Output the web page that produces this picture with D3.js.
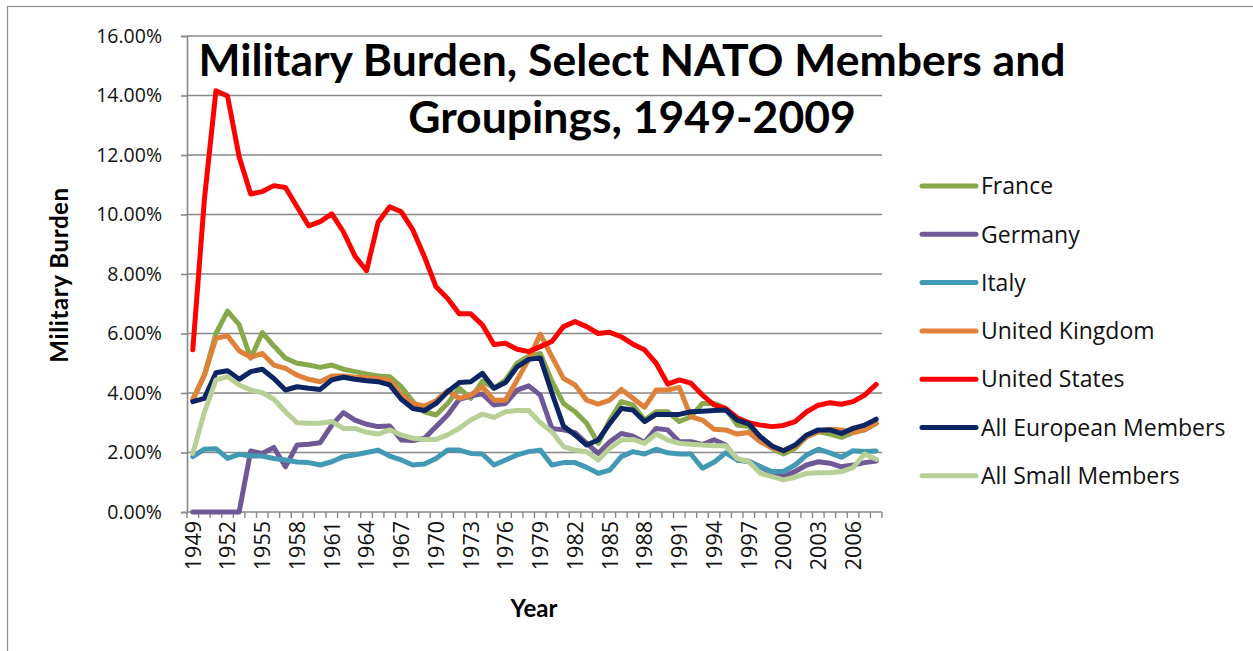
<!DOCTYPE html>
<html>
<head>
<meta charset="utf-8">
<script src="https://cdn.jsdelivr.net/npm/d3@7"></script>
<style>
  body { margin: 0; background: #fff; }
  svg { display: block; }
</style>
</head>
<body>
<div id="chart"></div>
<script>
// categories (one per year)
const years = d3.range(1949, 2009);
const yTicks = [0, 2, 4, 6, 8, 10, 12, 14, 16];

// military burden, % of GDP
const france = [3.76, 4.6, 6.0, 6.75, 6.3, 5.17, 6.03, 5.58, 5.17, 5.0,
  4.94, 4.86, 4.94, 4.8, 4.72, 4.64, 4.57, 4.55, 4.21, 3.71,
  3.37, 3.26, 3.65, 4.16, 3.82, 4.4, 4.16, 4.44, 5.0, 5.24,
  5.33, 4.4, 3.65, 3.37, 2.98, 2.31, 3.09, 3.71, 3.6, 3.09,
  3.37, 3.37, 3.04, 3.2, 3.65, 3.65, 3.48, 2.92, 2.87, 2.42,
  2.14, 1.95, 2.14, 2.53, 2.7, 2.62, 2.51, 2.67, 2.76, 2.98];
const germany = [0, 0, 0, 0, 0, 2.05, 1.97, 2.17, 1.52, 2.25,
  2.28, 2.33, 2.92, 3.34, 3.09, 2.95, 2.87, 2.89, 2.42, 2.40,
  2.48, 2.87, 3.26, 3.79, 3.9, 3.97, 3.6, 3.65, 4.1, 4.24,
  3.93, 2.81, 2.76, 2.67, 2.31, 1.97, 2.36, 2.64, 2.55, 2.34,
  2.81, 2.76, 2.36, 2.36, 2.27, 2.43, 2.25, 1.75, 1.71, 1.52,
  1.30, 1.19, 1.36, 1.58, 1.69, 1.64, 1.52, 1.58, 1.66, 1.71];
const italy = [1.86, 2.11, 2.13, 1.80, 1.94, 1.88, 1.88, 1.80, 1.75, 1.68,
  1.66, 1.58, 1.69, 1.86, 1.92, 2.0, 2.08, 1.88, 1.75, 1.58,
  1.61, 1.80, 2.08, 2.08, 1.97, 1.95, 1.58, 1.75, 1.92, 2.03,
  2.08, 1.58, 1.66, 1.66, 1.50, 1.30, 1.41, 1.86, 2.03, 1.95,
  2.11, 1.99, 1.95, 1.95, 1.47, 1.67, 1.99, 1.75, 1.69, 1.52,
  1.36, 1.36, 1.58, 1.92, 2.11, 1.99, 1.84, 2.06, 2.03, 2.05];
const unitedKingdom = [3.79, 4.6, 5.84, 5.92, 5.42, 5.20, 5.33, 4.94, 4.83, 4.6,
  4.46, 4.38, 4.57, 4.57, 4.53, 4.51, 4.49, 4.44, 3.93, 3.65,
  3.56, 3.74, 4.08, 3.82, 3.93, 4.21, 3.76, 3.76, 4.44, 5.13,
  5.98, 5.22, 4.49, 4.27, 3.76, 3.63, 3.76, 4.12, 3.82, 3.52,
  4.10, 4.10, 4.19, 3.20, 3.09, 2.78, 2.76, 2.62, 2.67, 2.36,
  2.16, 2.06, 2.20, 2.53, 2.70, 2.78, 2.76, 2.67, 2.76, 2.98];
const unitedStates = [5.45, 10.5, 14.16, 13.98, 11.94, 10.69, 10.77, 10.97, 10.91, 10.26,
  9.62, 9.76, 10.02, 9.42, 8.6, 8.11, 9.74, 10.26, 10.09, 9.48,
  8.58, 7.57, 7.18, 6.66, 6.66, 6.29, 5.63, 5.67, 5.47, 5.39,
  5.56, 5.73, 6.23, 6.40, 6.23, 6.0, 6.04, 5.89, 5.64, 5.45,
  5.0, 4.30, 4.44, 4.33, 3.93, 3.6, 3.48, 3.17, 3.0, 2.92,
  2.87, 2.91, 3.04, 3.37, 3.59, 3.67, 3.62, 3.71, 3.93, 4.29];
const europeanMembers = [3.71, 3.82, 4.68, 4.75, 4.46, 4.72, 4.80, 4.49, 4.10, 4.21,
  4.16, 4.12, 4.44, 4.53, 4.46, 4.41, 4.38, 4.27, 3.79, 3.48,
  3.41, 3.65, 4.04, 4.35, 4.38, 4.66, 4.16, 4.35, 4.88, 5.13,
  5.18, 4.0, 2.89, 2.59, 2.25, 2.42, 2.98, 3.48, 3.43, 3.04,
  3.28, 3.28, 3.28, 3.37, 3.39, 3.41, 3.43, 3.09, 2.96, 2.53,
  2.22, 2.06, 2.25, 2.59, 2.76, 2.76, 2.64, 2.81, 2.92, 3.12];
const smallMembers = [1.97, 3.35, 4.44, 4.55, 4.27, 4.10, 4.01, 3.79, 3.37, 3.0,
  2.98, 2.98, 3.04, 2.81, 2.81, 2.68, 2.62, 2.76, 2.59, 2.48,
  2.44, 2.44, 2.59, 2.81, 3.09, 3.29, 3.18, 3.37, 3.41, 3.41,
  3.0, 2.70, 2.20, 2.08, 2.03, 1.75, 2.14, 2.42, 2.44, 2.31,
  2.62, 2.42, 2.31, 2.28, 2.25, 2.23, 2.23, 1.80, 1.69, 1.30,
  1.19, 1.08, 1.17, 1.30, 1.32, 1.32, 1.36, 1.49, 1.95, 1.77];

const seriesNames = ["France", "Germany", "Italy", "United Kingdom", "United States",
  "All European Members", "All Small Members"];
const seriesValues = [france, germany, italy, unitedKingdom, unitedStates, europeanMembers, smallMembers];
const seriesColors = ["#88A94B", "#6E5895", "#4299B4", "#E08139", "#FF0000", "#0B2462", "#B8CF96"];

const width = 1253, height = 651;
const plot = {left: 187, right: 882, top: 36, bottom: 512};
const grey = "#888";

const svg = d3.select("#chart").append("svg")
    .attr("width", width).attr("height", height);

// chart area border (only left/top are in frame)
svg.append("rect")
    .attr("x", 7.5).attr("y", 6.5)
    .attr("width", 1270).attr("height", 680)
    .attr("fill", "none").attr("stroke", "#8c8c8c").attr("stroke-width", 1.2);

const x = d3.scaleBand().domain(years).range([plot.left, plot.right]).padding(0);
const y = d3.scaleLinear().domain([0, 16]).range([plot.bottom, plot.top]);
const xc = d => x(d) + x.bandwidth() / 2;

// gridlines
svg.append("g")
    .selectAll("line")
    .data(yTicks.filter(d => d > 0))
    .join("line")
    .attr("x1", plot.left).attr("x2", plot.right)
    .attr("y1", d => y(d)).attr("y2", d => y(d))
    .attr("stroke", grey).attr("stroke-width", 1.6);

// y axis
const yAxis = svg.append("g")
    .attr("transform", `translate(${plot.left},0)`)
    .call(d3.axisLeft(y).tickValues(yTicks).tickSize(6).tickPadding(19)
        .tickFormat(d => d.toFixed(2) + "%"));
yAxis.select(".domain").attr("stroke", grey).attr("stroke-width", 1.6);
yAxis.selectAll(".tick line").attr("stroke", grey).attr("stroke-width", 1.6);
yAxis.selectAll(".tick text")
    .attr("fill", "#111")
    .style("font-family", "'Open Sans', sans-serif")
    .style("font-size", "19.5px");

// x axis: line, a tick at every category boundary, a label every 3 years
const xAxis = svg.append("g");
xAxis.append("line")
    .attr("x1", plot.left).attr("x2", plot.right)
    .attr("y1", plot.bottom).attr("y2", plot.bottom)
    .attr("stroke", grey).attr("stroke-width", 1.6);
xAxis.selectAll(".xtick")
    .data(years.concat([null]))
    .join("line")
    .attr("class", "xtick")
    .attr("x1", d => d === null ? plot.right : x(d))
    .attr("x2", d => d === null ? plot.right : x(d))
    .attr("y1", plot.bottom).attr("y2", plot.bottom + 6)
    .attr("stroke", grey).attr("stroke-width", 1.4);
xAxis.selectAll(".xlabel")
    .data(years.filter((d, i) => i % 3 === 0))
    .join("text")
    .attr("class", "xlabel")
    .attr("transform", d => `translate(${xc(d)},${plot.bottom + 9}) rotate(-90)`)
    .attr("dy", "0.36em")
    .attr("text-anchor", "end")
    .attr("fill", "#111")
    .style("font-family", "'Open Sans', sans-serif")
    .style("font-size", "21.5px")
    .text(d => d);

// axis titles
svg.append("text")
    .attr("transform", `translate(68,275) rotate(-90)`)
    .attr("text-anchor", "middle")
    .style("font-family", "Lato, sans-serif")
    .style("font-weight", "bold")
    .style("font-size", "24px")
    .style("letter-spacing", "0.6px")
    .text("Military Burden");

svg.append("text")
    .attr("x", 534).attr("y", 617)
    .attr("text-anchor", "middle")
    .style("font-family", "Lato, sans-serif")
    .style("font-weight", "bold")
    .style("font-size", "24px")
    .text("Year");

// series lines
const line = d3.line()
    .x((d, i) => xc(years[i]))
    .y(d => y(d));

svg.append("g")
    .selectAll("path")
    .data(seriesValues)
    .join("path")
    .attr("d", d => line(d))
    .attr("fill", "none")
    .attr("stroke", (d, i) => seriesColors[i])
    .attr("stroke-width", 5)
    .attr("stroke-linejoin", "round")
    .attr("stroke-linecap", "round");

// title
const title = svg.append("text")
    .attr("text-anchor", "middle")
    .style("font-family", "Lato, sans-serif")
    .style("font-weight", "bold")
    .style("font-size", "44.5px")
    .attr("fill", "#000");
title.append("tspan").attr("x", 632).attr("y", 76).text("Military Burden, Select NATO Members and");
title.append("tspan").attr("x", 632).attr("y", 133).text("Groupings, 1949-2009");

// legend
const legend = svg.append("g")
    .selectAll("g")
    .data(seriesNames)
    .join("g")
    .attr("transform", (d, i) => `translate(922,${186 + i * 48.3})`);
legend.append("line")
    .attr("x1", 0).attr("x2", 54)
    .attr("stroke", (d, i) => seriesColors[i])
    .attr("stroke-width", 5)
    .attr("stroke-linecap", "round");
legend.append("text")
    .attr("x", 59)
    .attr("dy", "0.36em")
    .style("font-family", "'Open Sans', sans-serif")
    .style("font-size", "23px")
    .attr("fill", "#111")
    .text(d => d);
</script>
</body>
</html>
